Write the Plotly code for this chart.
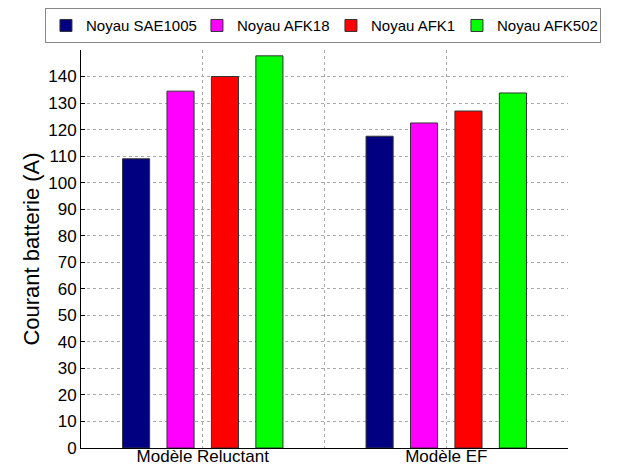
import plotly.graph_objects as go

models = ["Modèle Reluctant", "Modèle EF"]
series = ["Noyau SAE1005", "Noyau AFK18", "Noyau AFK1", "Noyau AFK502"]
values = [
    [109.0, 117.5],
    [134.5, 122.5],
    [140.0, 127.0],
    [147.8, 133.8],
]
colors = ["#000080", "#FF00FF", "#FF0000", "#00FF00"]
# legend entry widths (px) so the four entries stay on one row
entry_w = [106, 89, 81, 98]
x_pos = [1, 2]

fig = go.Figure()
for name, vals, col, lw in zip(series, values, colors, entry_w):
    fig.add_trace(go.Bar(
        x=x_pos, y=vals, name=name, legendwidth=lw,
        marker=dict(color=col, line=dict(color="#333333", width=1)),
    ))

# page body has an 8px margin, so the figure is 8px smaller than the window
fig.update_layout(
    width=626, height=459,
    barmode="group", bargap=0.27, bargroupgap=0.39,
    plot_bgcolor="white", paper_bgcolor="white",
    margin=dict(l=73, r=66, t=42, b=19, autoexpand=False),
    font=dict(family="Arial, Liberation Sans", size=16, color="black"),
    legend=dict(
        orientation="h", x=-0.074, xanchor="left", y=1.105, yanchor="top",
        bordercolor="#888888", borderwidth=1, font=dict(size=15),
        itemwidth=30, tracegroupgap=0, entrywidthmode="pixels",
    ),
)
fig.update_xaxes(
    range=[0.5, 2.5],
    tickvals=[0.5, 1, 1.5, 2, 2.5],
    ticktext=["", models[0], "", models[1], ""],
    showgrid=True, gridcolor="#AAAAAA", griddash="dot", gridwidth=1,
    showline=True, linecolor="black", linewidth=1,
    ticks="", zeroline=False, tickfont=dict(size=17),
    ticklabelstandoff=-7,
)
fig.update_yaxes(
    range=[0, 150],
    tickvals=list(range(0, 150, 10)),
    title=dict(text="Courant batterie (A)", font=dict(size=22), standoff=2),
    showgrid=True, gridcolor="#AAAAAA", griddash="dot", gridwidth=1,
    showline=True, linecolor="black", linewidth=1,
    ticks="inside", ticklen=4, tickcolor="black",
    zeroline=False, tickfont=dict(size=17),
)

fig.write_html("out.html")
